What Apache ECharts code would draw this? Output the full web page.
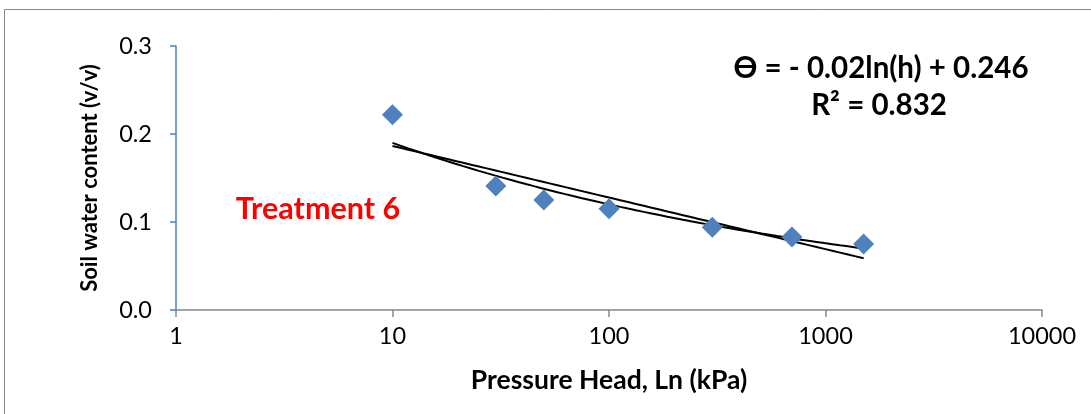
<!DOCTYPE html>
<html>
<head>
<meta charset="utf-8">
<script src="https://cdn.jsdelivr.net/npm/echarts@6/dist/echarts.min.js"></script>
<style>
html,body{margin:0;padding:0;background:#fff;}
#chart{width:1091px;height:414px;}
</style>
</head>
<body>
<div id="chart"></div>
<script>
// Data
var pressureHead = [10, 30, 50, 100, 300, 700, 1500];
var waterContent = [0.222, 0.141, 0.125, 0.115, 0.094, 0.083, 0.075];
var xTicks = [1, 10, 100, 1000, 10000];
var yTicks = [0.0, 0.1, 0.2, 0.3];
var equationText = 'Ѳ = - 0.02ln(h) + 0.246';
var r2Text = 'R² = 0.832';
var treatmentText = 'Treatment 6';

// Excel-style trendlines fitted to the data
function fitLog(xs, ys) {
  var lx = xs.map(Math.log), n = xs.length;
  var mx = lx.reduce(function(a,b){return a+b;},0)/n;
  var my = ys.reduce(function(a,b){return a+b;},0)/n;
  var sxy = 0, sxx = 0;
  for (var i=0;i<n;i++){ sxy += (lx[i]-mx)*(ys[i]-my); sxx += (lx[i]-mx)*(lx[i]-mx); }
  var b = sxy/sxx; return {b:b, a:my-b*mx};
}
function fitPow(xs, ys) {
  var f = fitLog(xs, ys.map(Math.log));
  return {a:Math.exp(f.a), b:f.b};
}
var lf = fitLog(pressureHead, waterContent);
var pf = fitPow(pressureHead, waterContent);
var xMin = pressureHead[0], xMax = pressureHead[pressureHead.length-1];
var logLine = [], powLine = [];
for (var k=0;k<=60;k++){
  var x = Math.exp(Math.log(xMin) + (Math.log(xMax)-Math.log(xMin))*k/60);
  logLine.push([x, lf.a + lf.b*Math.log(x)]);
  powLine.push([x, pf.a*Math.pow(x, pf.b)]);
}

var FONT = 'Lato, "Open Sans", sans-serif';
var chart = echarts.init(document.getElementById('chart'));
chart.setOption({
  animation: false,
  backgroundColor: '#fff',
  grid: {left: 176, right: 49, top: 46, bottom: 104, containLabel: false},
  xAxis: {
    type: 'log', logBase: 10, min: xTicks[0], max: xTicks[xTicks.length-1],
    name: 'Pressure Head, Ln (kPa)', nameLocation: 'middle', nameGap: 57,
    nameTextStyle: {fontFamily: FONT, fontWeight: 'bold', fontSize: 26.5, color: '#000'},
    axisLine: {lineStyle: {color: '#868686', width: 1.5}},
    axisTick: {show: true, length: 7, lineStyle: {color: '#868686', width: 1.5}},
    minorTick: {show: false},
    splitLine: {show: false},
    axisLabel: {fontFamily: FONT, fontSize: 23.5, color: '#000', margin: 14,
      formatter: function(v){ return String(Math.round(v)); }}
  },
  yAxis: {
    type: 'value', min: yTicks[0], max: yTicks[yTicks.length-1], interval: 0.1,
    name: 'Soil water content (v/v)', nameLocation: 'middle', nameGap: 75, nameRotate: 90,
    nameTextStyle: {fontFamily: FONT, fontWeight: 'bold', fontSize: 22, color: '#000'},
    axisLine: {show: true, lineStyle: {color: '#4F81BD', width: 1.5}},
    axisTick: {show: true, length: 6, lineStyle: {color: '#4F81BD', width: 1.5}},
    splitLine: {show: false},
    axisLabel: {fontFamily: FONT, fontSize: 23.5, color: '#000', margin: 24,
      formatter: function(v){ return v.toFixed(1); }}
  },
  series: [
    {type: 'line', data: logLine, showSymbol: false, symbol: 'none', smooth: false,
     lineStyle: {color: '#000', width: 2}, z: 2},
    {type: 'line', data: powLine, showSymbol: false, symbol: 'none', smooth: false,
     lineStyle: {color: '#000', width: 2}, z: 2},
    {type: 'scatter', data: pressureHead.map(function(x,i){return [x, waterContent[i]];}),
     symbol: 'diamond', symbolSize: [21, 21], itemStyle: {color: '#4F81BD', opacity: 1}, z: 3}
  ],
  graphic: [
    {type: 'rect', shape: {x: 4.5, y: 9.5, width: 1100, height: 420},
     style: {fill: 'none', stroke: '#888', lineWidth: 1}, silent: true},
    {type: 'text', x: 318, y: 209,
     style: {text: treatmentText, fontFamily: FONT, fontWeight: 'bold', fontSize: 30.5, fill: '#FF0000',
       textAlign: 'center', textVerticalAlign: 'middle'}},
    {type: 'text', x: 881, y: 68,
     style: {text: equationText, fontFamily: FONT, fontWeight: 'bold', fontSize: 29.5, fill: '#000',
       textAlign: 'center', textVerticalAlign: 'middle'}},
    {type: 'text', x: 879, y: 105,
     style: {text: r2Text, fontFamily: FONT, fontWeight: 'bold', fontSize: 29.5, fill: '#000',
       textAlign: 'center', textVerticalAlign: 'middle'}}
  ]
});
</script>
</body>
</html>
